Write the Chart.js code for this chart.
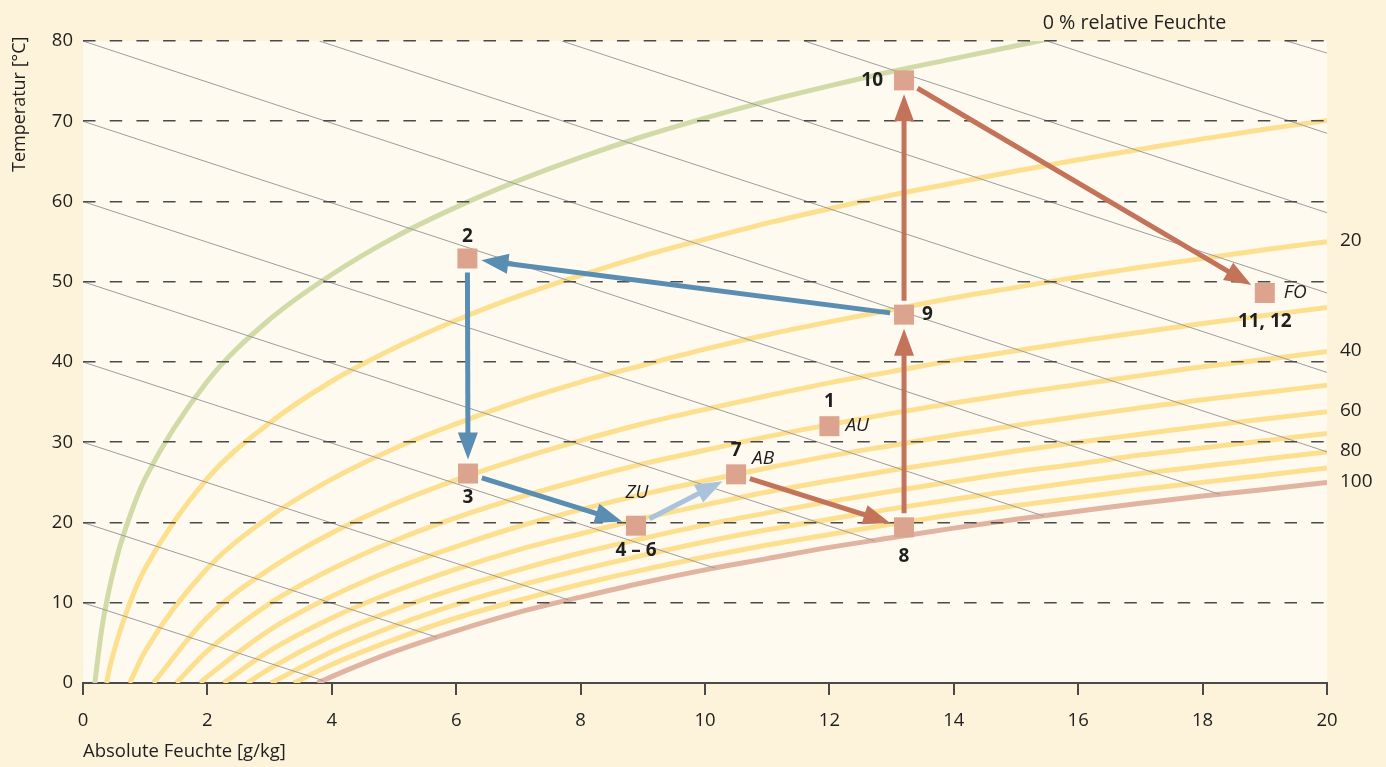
<!DOCTYPE html>
<html>
<head>
<meta charset="utf-8">
<title>h,x-Diagramm</title>
<script src="https://cdn.jsdelivr.net/npm/chart.js@4.4.1/dist/chart.umd.min.js"></script>
<style>
  html, body { margin: 0; padding: 0; background: #fdf2da; }
  canvas { display: block; }
</style>
</head>
<body>
<canvas id="chart" width="1386" height="767"></canvas>
<script>
// ---------- data ----------
// absolute humidity (g/kg) at which the relative-humidity curves are tabulated
const humidityGrid = [1, 2, 3, 4, 5, 6, 7, 8, 9, 10, 11, 12, 13, 14, 15, 16, 17, 18, 19, 20];
// finer steps below 1 g/kg for the two driest curves
const lowHumidityGrid = [0.3, 0.4, 0.5, 0.6, 0.8];

// temperature (°C) of each relative-humidity curve on humidityGrid
const rh5   = [25.5, 37.6, 45.3, 50.9, 55.5, 59.3, 62.6, 65.5, 68.1, 70.4, 72.5, 74.4, 76.2, 77.8, 79.4, 81.0, null, null, null, null];
const rh10  = [14.3, 25.5, 32.4, 37.6, 41.7, 45.2, 48.2, 50.8, 53.2, 55.3, 57.3, 59.1, 60.8, 62.3, 63.8, 65.2, 66.5, 67.8, 69.0, 70.1];
const rh20  = [4.0, 14.3, 20.7, 25.4, 29.2, 32.3, 35.1, 37.5, 39.6, 41.6, 43.4, 45.0, 46.5, 48.0, 49.3, 50.6, 51.8, 52.9, 54.0, 55.0];
const rh30  = [null, 8.2, 14.2, 18.7, 22.3, 25.3, 27.9, 30.2, 32.3, 34.1, 35.8, 37.4, 38.8, 40.2, 41.4, 42.6, 43.7, 44.8, 45.8, 46.8];
const rh40  = [null, 4.0, 9.9, 14.2, 17.7, 20.6, 23.1, 25.3, 27.3, 29.0, 30.7, 32.2, 33.6, 34.9, 36.1, 37.2, 38.3, 39.4, 40.3, 41.3];
const rh50  = [null, 0.8, 6.6, 10.8, 14.2, 17.0, 19.5, 21.6, 23.5, 25.2, 26.8, 28.3, 29.6, 30.9, 32.1, 33.2, 34.3, 35.3, 36.2, 37.1];
const rh60  = [null, null, 4.0, 8.1, 11.4, 14.2, 16.6, 18.6, 20.5, 22.2, 23.8, 25.2, 26.5, 27.7, 28.9, 30.0, 31.0, 32.0, 32.9, 33.8];
const rh70  = [null, null, 1.8, 5.9, 9.1, 11.8, 14.1, 16.2, 18.0, 19.7, 21.2, 22.6, 23.9, 25.1, 26.3, 27.3, 28.4, 29.3, 30.2, 31.1];
const rh80  = [null, null, null, 3.9, 7.1, 9.8, 12.1, 14.1, 15.9, 17.6, 19.1, 20.4, 21.7, 22.9, 24.0, 25.1, 26.1, 27.0, 27.9, 28.8];
const rh90  = [null, null, null, 2.3, 5.4, 8.1, 10.3, 12.3, 14.1, 15.7, 17.2, 18.5, 19.8, 21.0, 22.1, 23.1, 24.1, 25.0, 25.9, 26.8];
const rh100 = [null, null, null, 0.8, 3.9, 6.5, 8.8, 10.7, 12.5, 14.1, 15.5, 16.9, 18.1, 19.3, 20.4, 21.4, 22.4, 23.3, 24.1, 25.0];

// values on lowHumidityGrid
const rh5Low  = [6.65, 10.9, 14.3, 17.2, 21.8];
const rh10Low = [null, 0.9, 4.0, 6.6, 10.9];

// relative humidity (%) of each curve, and where it meets 0 °C (g/kg)
const rhLevels = [5, 10, 20, 30, 40, 50, 60, 70, 80, 90, 100];
const rhZeroX  = [0.19, 0.38, 0.75, 1.13, 1.50, 1.88, 2.26, 2.64, 3.02, 3.39, 3.77];
// curves that carry a percentage label at the right border
const rhLabelled = ['20', '40', '60', '80', '100'];

// lines of constant enthalpy: start and end (x in g/kg, T in °C)
const enthalpyStartX = [0, 0, 0, 0, 0, 0, 0, 0, 3.8, 7.7, 11.6, 15.5, 19.35];
const enthalpyStartT = [10, 20, 30, 40, 50, 60, 70, 80, 80, 80, 80, 80, 80];
const enthalpyEndX   = [3.86, 5.69, 7.81, 10.17, 12.73, 15.45, 18.28, 20, 20, 20, 20, 20, 20];
const enthalpyEndT   = [0.3, 5.7, 10.35, 14.3, 17.7, 20.8, 23.5, 28.8, 38.7, 48.6, 58.6, 68.5, 78.5];

// process states
const stateLabels = ['1', '2', '3', '4 – 6', '7', '8', '9', '10', '11, 12'];
const stateX      = [12.0, 6.18, 6.19, 8.89, 10.5, 13.2, 13.2, 13.2, 19.0];
const stateT      = [32.0, 52.9, 26.1, 19.6, 26.0, 19.4, 45.9, 75.1, 48.6];
const streamNames = { 0: 'AU', 3: 'ZU', 4: 'AB', 8: 'FO' };

// changes of state (indices into the state arrays)
const stepFrom = [6, 1, 2, 3, 4, 5, 6, 7];
const stepTo   = [1, 2, 3, 4, 5, 6, 7, 8];
const stepKind = ['drying', 'drying', 'drying', 'supply', 'heat', 'heat', 'heat', 'heat'];

const xTickStep = 2;
const yTickStep = 10;

// ---------- styling ----------
const FONT = '"Open Sans", "Noto Sans", sans-serif';
const TEXT = '#1f1f1f';
const GRID = '#4a4a4a';
const CURVE_YELLOW = '#fde08f';
const CURVE_GREEN = '#d2dba7';
const CURVE_SAT = '#e1b3a1';
const ENTHALPY = '#9d9d9d';
const STATE_FILL = '#dca48e';
const STEP_COLORS = { drying: '#5a8db2', supply: '#a9c4da', heat: '#c3735a' };

// ---------- datasets ----------
function curvePoints(idx, values, lowValues) {
  const pts = [{ x: rhZeroX[idx], y: 0 }];
  if (lowValues) {
    lowHumidityGrid.forEach((x, i) => {
      if (lowValues[i] !== null && x > rhZeroX[idx]) pts.push({ x, y: lowValues[i] });
    });
  }
  humidityGrid.forEach((x, i) => {
    if (values[i] !== null && x > rhZeroX[idx]) pts.push({ x, y: values[i] });
  });
  return pts;
}

const rhSeries = [rh5, rh10, rh20, rh30, rh40, rh50, rh60, rh70, rh80, rh90, rh100];
const datasets = [];

enthalpyStartX.forEach((x0, i) => {
  datasets.push({
    label: 'h' + i,
    data: [{ x: x0, y: enthalpyStartT[i] }, { x: enthalpyEndX[i], y: enthalpyEndT[i] }],
    showLine: true, borderColor: ENTHALPY, borderWidth: 1, pointRadius: 0, order: 0
  });
});

rhSeries.forEach((vals, i) => {
  const low = i === 0 ? rh5Low : (i === 1 ? rh10Low : null);
  const level = rhLevels[i];
  datasets.push({
    label: level + ' %',
    data: curvePoints(i, vals, low),
    showLine: true,
    borderColor: level === 5 ? CURVE_GREEN : (level === 100 ? CURVE_SAT : CURVE_YELLOW),
    borderWidth: 5, pointRadius: 0, cubicInterpolationMode: 'monotone', order: 1,
    borderJoinStyle: 'round'
  });
});

// ---------- drawing helpers ----------
const HALF = 10;
function drawStep(ctx, a, b, color) {
  const dx = b.x - a.x, dy = b.y - a.y, len = Math.hypot(dx, dy);
  const ux = dx / len, uy = dy / len;
  const edge = HALF / Math.max(Math.abs(ux), Math.abs(uy));
  const x1 = a.x + ux * (edge + 4), y1 = a.y + uy * (edge + 4);
  const tx = b.x - ux * (edge + 4), ty = b.y - uy * (edge + 4);
  const headLen = 27, headHalf = 10;
  const bx = tx - ux * headLen, by = ty - uy * headLen;
  ctx.strokeStyle = color;
  ctx.lineWidth = 5;
  ctx.lineCap = 'butt';
  ctx.beginPath();
  ctx.moveTo(x1, y1);
  ctx.lineTo(bx + ux * 3, by + uy * 3);
  ctx.stroke();
  ctx.fillStyle = color;
  ctx.beginPath();
  ctx.moveTo(tx, ty);
  ctx.lineTo(bx - uy * headHalf, by + ux * headHalf);
  ctx.lineTo(bx + uy * headHalf, by - ux * headHalf);
  ctx.closePath();
  ctx.fill();
}

// label placement around each state marker: [dx, dy, align]
const numberPlacement = [
  [0, -25, 'center'], [0, -22, 'center'], [0, 24, 'center'], [0, 25, 'center'],
  [0, -24, 'center'], [0, 29, 'center'], [18, 0, 'left'], [-21, 0, 'right'], [0, 29, 'center']
];
const namePlacement = { 0: [16, -1, 'left'], 3: [1, -33, 'center'], 4: [16, -16, 'left'], 8: [19, 0, 'left'] };

const decor = {
  id: 'decor',
  beforeDraw(chart) {
    const { ctx, chartArea: a } = chart;
    ctx.save();
    ctx.fillStyle = '#fdf2da';
    ctx.fillRect(0, 0, chart.width, chart.height);
    ctx.fillStyle = '#fffaf0';
    ctx.fillRect(a.left, a.top, a.right - a.left, a.bottom - a.top);
    ctx.restore();
  },
  afterDraw(chart) {
    const { ctx, chartArea: a } = chart;
    const sx = chart.scales.x, sy = chart.scales.y;
    const pts = stateX.map((v, i) => ({ x: sx.getPixelForValue(v), y: sy.getPixelForValue(stateT[i]) }));
    ctx.save();

    stepFrom.forEach((f, k) => drawStep(ctx, pts[f], pts[stepTo[k]], STEP_COLORS[stepKind[k]]));

    ctx.fillStyle = STATE_FILL;
    pts.forEach(p => ctx.fillRect(p.x - HALF, p.y - HALF, 2 * HALF, 2 * HALF));

    ctx.fillStyle = TEXT;
    ctx.textBaseline = 'middle';
    ctx.font = 'bold 19px ' + FONT;
    stateLabels.forEach((t, i) => {
      const [dx, dy, al] = numberPlacement[i];
      ctx.textAlign = al;
      ctx.fillText(t, pts[i].x + dx, pts[i].y + dy);
    });
    ctx.font = 'italic 19px ' + FONT;
    Object.keys(streamNames).forEach(k => {
      const [dx, dy, al] = namePlacement[k];
      ctx.textAlign = al;
      ctx.fillText(streamNames[k], pts[k].x + dx, pts[k].y + dy);
    });

    // percentage labels at the right end of the curves
    ctx.font = '19px ' + FONT;
    ctx.textAlign = 'left';
    rhLabelled.forEach(lbl => {
      const idx = rhLevels.indexOf(Number(lbl));
      const vals = rhSeries[idx];
      const y = sy.getPixelForValue(vals[vals.length - 1]);
      ctx.fillText(lbl, a.right + 13, y - 1);
    });
    ctx.font = '19.7px ' + FONT;
    ctx.fillText('0 % relative Feuchte', sx.getPixelForValue(15.43), a.top - 18);

    // axis titles
    ctx.font = '18.5px ' + FONT;
    ctx.fillText('Absolute Feuchte [g/kg]', a.left, chart.height - 15);
    ctx.font = '18px ' + FONT;
    ctx.translate(20, 172);
    ctx.rotate(-Math.PI / 2);
    ctx.fillText('Temperatur [°C]', 0, 0);
    ctx.restore();
  }
};

new Chart(document.getElementById('chart'), {
  type: 'scatter',
  data: { datasets },
  options: {
    responsive: false,
    devicePixelRatio: 1,
    animation: false,
    events: [],
    layout: { padding: { left: 0, right: 59, top: 41, bottom: 0 } },
    plugins: { legend: { display: false }, tooltip: { enabled: false } },
    scales: {
      x: {
        type: 'linear', min: 0, max: 20, position: 'bottom',
        ticks: { stepSize: xTickStep, color: TEXT, font: { family: FONT, size: 18.5 }, padding: 15, maxRotation: 0 },
        grid: { drawOnChartArea: false, drawTicks: true, tickLength: 12, tickWidth: 2, color: GRID, lineWidth: 2 },
        border: { display: true, color: GRID, width: 2 },
        afterFit(s) { s.height = 84; }
      },
      y: {
        type: 'linear', min: 0, max: 80,
        ticks: { stepSize: yTickStep, color: TEXT, font: { family: FONT, size: 18.5 }, padding: 10 },
        grid: {
          drawTicks: false, z: 1, lineWidth: 1.6,
          color: c => (c.tick && c.tick.value === 0) ? 'rgba(0,0,0,0)' : GRID
        },
        border: { display: false, dash: [12.5, 14.2] },
        afterFit(s) { s.width = 83; }
      }
    }
  },
  plugins: [decor]
});
</script>
</body>
</html>
